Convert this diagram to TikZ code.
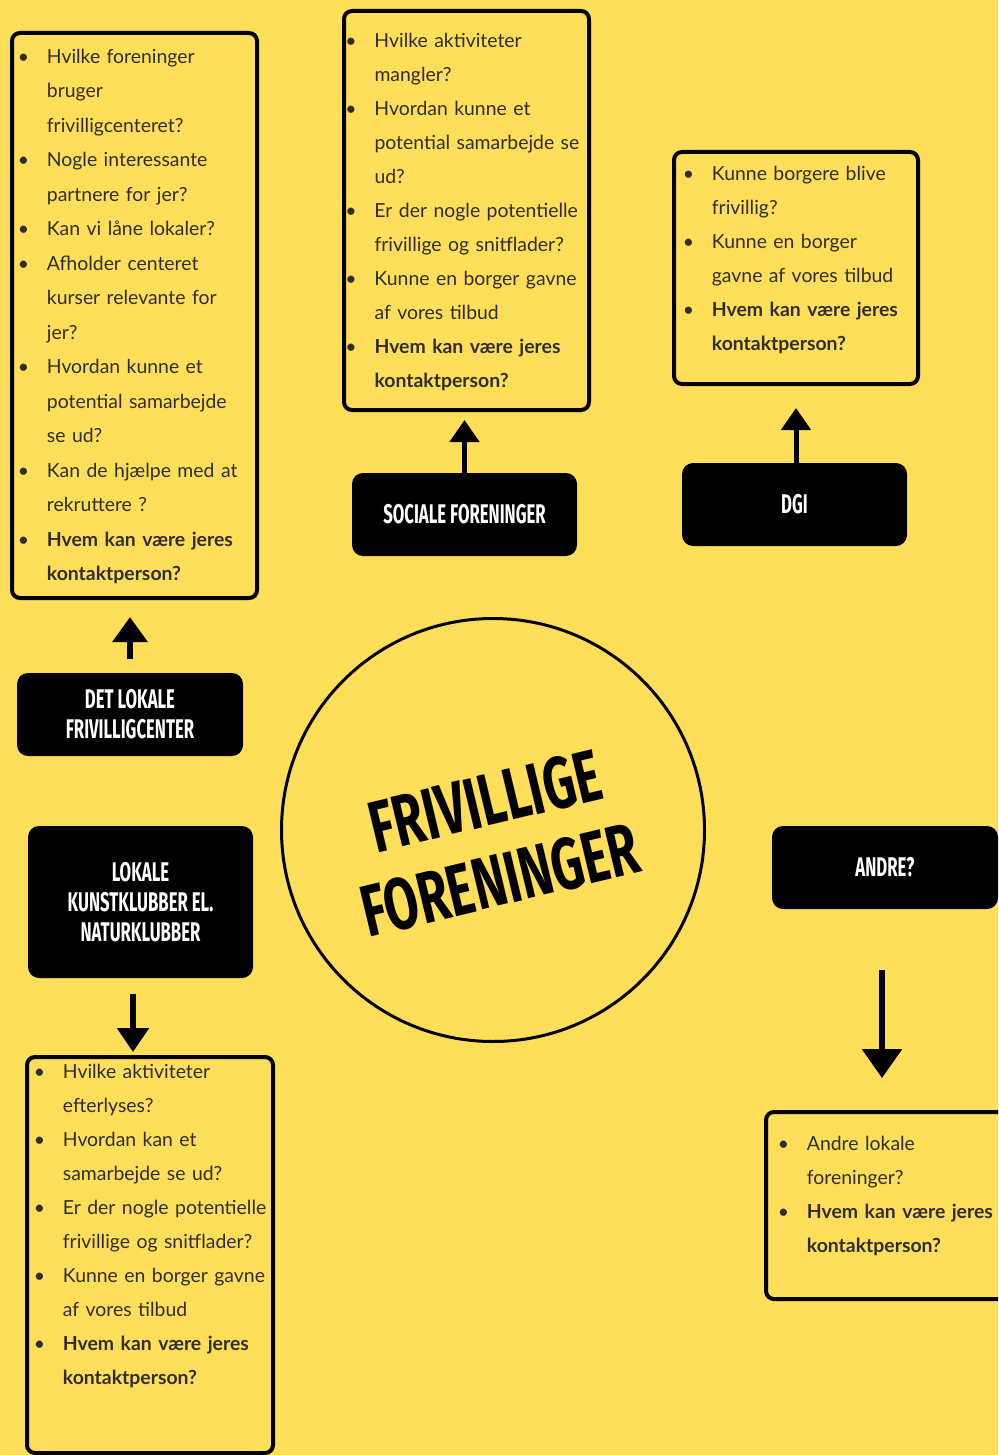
\documentclass[tikz,border=0pt]{standalone}
\usepackage{fontspec}
\setmainfont{Lato}[WordSpace=0.8]
\newfontfamily\headfont[FakeStretch=0.62]{Fira Sans}
\newfontfamily\titlefont[FakeStretch=0.68]{Fira Sans}
\usetikzlibrary{arrows.meta,positioning}

\definecolor{bgyellow}{HTML}{FFDE59}
\definecolor{txtgray}{HTML}{2E2E2E}

\newcommand{\bl}{\leavevmode\llap{\makebox[47pt][c]{\textbullet}}}

\tikzset{
  qbox/.style={draw=black, line width=4pt, rounded corners=8pt, inner sep=0pt, outer sep=0pt},
  qtext/.style={anchor=base west, inner sep=0pt, text width=230pt, align=left, text=txtgray,
    font=\fontsize{19.4}{34}\selectfont},
  head/.style={fill=black, text=white, rounded corners=11pt, inner sep=0pt, outer sep=0pt,
    minimum width=225pt, minimum height=83pt, align=center, font=\headfont\bfseries\fontsize{27}{30}\selectfont},
  uparr/.style={-{Triangle[width=29pt,length=22pt]}, line width=5pt},
  title/.style={rotate=13.5, inner sep=0pt, font=\titlefont\bfseries\fontsize{73}{80}\selectfont}
}

\begin{document}
\begin{tikzpicture}[x=1pt, y=-1pt]
  \useasboundingbox (0,0) rectangle (998,1455);
  \fill[bgyellow] (0,0) rectangle (998,1455);
  \clip (0,0) rectangle (998,1455);

  % question boxes
  \node[qbox, minimum width=245pt, minimum height=565pt] (fcbox) at (134.5,315.5) {};
  \node[qbox, minimum width=245pt, minimum height=399pt] (socbox) at (466.5,210.5) {};
  \node[qbox, minimum width=244pt, minimum height=232pt] (dgibox) at (796,268) {};
  \node[qbox, minimum width=246pt, minimum height=396pt] (kunstbox) at (150,1255) {};
  \node[qbox, minimum width=254pt, minimum height=187pt] (andrebox) at (893,1205.5) {};

  % headers
  \node[head] (soc) at (464.5,514.5) {SOCIALE FORENINGER};
  \node[head] (dgi) at (794.5,504.5) {DGI};
  \node[head, minimum width=226pt] (fc) at (130,714.5) {DET LOKALE\\FRIVILLIGCENTER};
  \node[head, minimum height=152pt] (kunst) at (140.5,902) {LOKALE\\KUNSTKLUBBER EL.\\NATURKLUBBER};
  \node[head, minimum width=226pt] (andre) at (885,867.5) {ANDRE?};

  % centre
  \node[circle, draw, line width=3pt, minimum size=423pt, inner sep=0pt] (hub) at (493,830) {};
  \node[title] (t1) at (485,801) {FRIVILLIGE};
  \node[title] (t2) at (500,880) {FORENINGER};

  % arrows
  \draw[uparr, shorten >=10pt] (soc.north) -- (soc.north |- socbox.south);
  \draw[uparr, shorten >=24pt] (dgibox.south |- dgi.north) -- (dgibox.south);
  \draw[-{Triangle[width=34pt,length=25pt]}, line width=6.5pt, shorten <=14pt, shorten >=19pt]
    (fc.north) -- (fc.north |- fcbox.south);
  \draw[-{Triangle[width=31pt,length=24pt]}, line width=5.5pt, shorten <=16pt, shorten >=5pt]
    ([xshift=-7.5pt]kunst.south) -- ([xshift=-7.5pt]kunst.south |- kunstbox.north);
  \draw[-{Triangle[width=39pt,length=29pt]}, line width=6pt, shorten <=61pt, shorten >=34pt]
    ([xshift=-3pt]andre.south) -- ([xshift=-3pt]andre.south |- andrebox.north);

  % questions
  \node[qtext, font=\fontsize{19.4}{34.5}\selectfont] (fctxt) at (46.7,63.3) {\bl Hvilke foreninger\\ bruger\\ frivilligcenteret?\\
    \bl Nogle interessante\\ partnere for jer?\\ \bl Kan vi låne lokaler?\\
    \bl Afholder centeret\\ kurser relevante for\\ jer?\\
    \bl Hvordan kunne et\\ potential samarbejde\\ se ud?\\
    \bl Kan de hjælpe med at\\ rekruttere ?\\
    \bl\textbf{Hvem kan være jeres}\\ \textbf{kontaktperson?}};
  \node[qtext] (soctxt) at (374.3,47.7) {\bl Hvilke aktiviteter\\ mangler?\\
    \bl Hvordan kunne et\\ potential samarbejde se\\ ud?\\
    \bl Er der nogle potentielle\\ frivillige og snitflader?\\
    \bl Kunne en borger gavne\\ af vores tilbud\\
    \bl\textbf{Hvem kan være jeres}\\ \textbf{kontaktperson?}};
  \node[qtext] (dgitxt) at (711.7,180.7) {\bl Kunne borgere blive\\ frivillig?\\
    \bl Kunne en borger\\ gavne af vores tilbud\\
    \bl\textbf{Hvem kan være jeres}\\ \textbf{kontaktperson?}};
  \node[qtext] (kunsttxt) at (62.7,1078.3) {\bl Hvilke aktiviteter\\ efterlyses?\\
    \bl Hvordan kan et\\ samarbejde se ud?\\
    \bl Er der nogle potentielle\\ frivillige og snitflader?\\
    \bl Kunne en borger gavne\\ af vores tilbud\\
    \bl\textbf{Hvem kan være jeres}\\ \textbf{kontaktperson?}};
  \node[qtext] (andretxt) at (806.7,1150.7) {\bl Andre lokale\\ foreninger?\\
    \bl\textbf{Hvem kan være jeres}\\ \textbf{kontaktperson?}};
\end{tikzpicture}
\end{document}
